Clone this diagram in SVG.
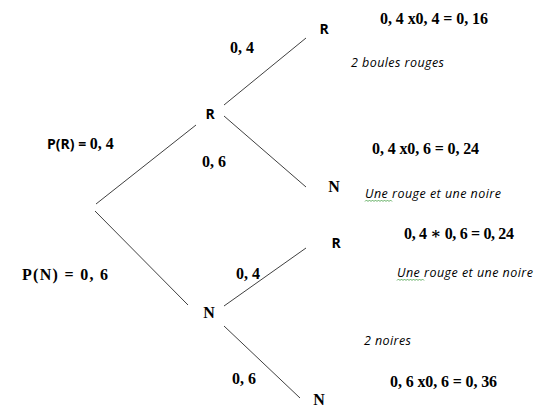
<svg xmlns="http://www.w3.org/2000/svg" width="552" height="407" viewBox="0 0 552 407">
<style>
.e{stroke:#404040;stroke-width:1;fill:none}
.s{font-family:"Open Sans","Liberation Sans",sans-serif;font-weight:bold;font-size:14px;fill:#000}
.m{font-family:"Liberation Serif","DejaVu Serif",serif;font-weight:bold;font-size:16px;fill:#000}
.i{font-family:"Open Sans","Liberation Sans",sans-serif;font-style:italic;font-size:12.5px;fill:#000}
.w{stroke:#3c9b3c;stroke-width:0.8;fill:none}
</style>
<rect width="552" height="407" fill="#fff"/>
<g id="connectors">
<line class="e" x1="96" y1="204" x2="196" y2="125"/>
<line class="e" x1="95" y1="211" x2="188" y2="305"/>
<line class="e" x1="224" y1="105" x2="306" y2="38"/>
<line class="e" x1="224" y1="116" x2="306" y2="187"/>
<line class="e" x1="224" y1="306" x2="306" y2="248"/>
<line class="e" x1="224" y1="326" x2="300" y2="398"/>
</g>
<g id="node-R"><text class="s" x="210" y="119" text-anchor="middle">R</text></g>
<g id="node-N"><text class="m" x="209" y="318" text-anchor="middle">N</text></g>
<g id="node-RR"><text class="s" x="324" y="34" text-anchor="middle">R</text></g>
<g id="node-RN"><text class="m" x="334" y="192" text-anchor="middle">N</text></g>
<g id="node-NR"><text class="s" x="336" y="248" text-anchor="middle">R</text></g>
<g id="node-NN"><text class="m" x="319" y="405" text-anchor="middle" font-size="15">N</text></g>
<g id="labels">
<text x="47" y="149"><tspan class="s">P(R) = </tspan><tspan class="m">0, 4</tspan></text>
<text class="m" x="22" y="280" font-size="17.5" textLength="86" lengthAdjust="spacing">P(N) = 0, 6</text>
<text class="m" x="230" y="53">0, 4</text>
<text class="m" x="202" y="167">0, 6</text>
<text class="m" x="236" y="279">0, 4</text>
<text class="m" x="232" y="384">0, 6</text>
<text class="m" x="380" y="24" textLength="108" lengthAdjust="spacing">0, 4 x0, 4 = 0, 16</text>
<text class="i" x="351" y="67" textLength="93" lengthAdjust="spacing">2 boules rouges</text>
<text class="m" x="372" y="154" textLength="107" lengthAdjust="spacing">0, 4 x0, 6 = 0, 24</text>
<text class="i" x="365" y="198" textLength="136" lengthAdjust="spacing">Une rouge et une noire</text>
<path class="w" d="M365 201.5 l1.5 -1.5 l1.5 1.5 l1.5 -1.5 l1.5 1.5 l1.5 -1.5 l1.5 1.5 l1.5 -1.5 l1.5 1.5 l1.5 -1.5 l1.5 1.5 l1.5 -1.5 l1.5 1.5 l1.5 -1.5 l1.5 1.5 l1.5 -1.5 l1.5 1.5 l1.5 -1.5 l1.5 1.5"/>
<text class="m" x="404" y="239" textLength="110" lengthAdjust="spacing">0, 4 ∗ 0, 6 = 0, 24</text>
<text class="i" x="397" y="277" textLength="136" lengthAdjust="spacing">Une rouge et une noire</text>
<path class="w" d="M397 280.5 l1.5 -1.5 l1.5 1.5 l1.5 -1.5 l1.5 1.5 l1.5 -1.5 l1.5 1.5 l1.5 -1.5 l1.5 1.5 l1.5 -1.5 l1.5 1.5 l1.5 -1.5 l1.5 1.5 l1.5 -1.5 l1.5 1.5 l1.5 -1.5 l1.5 1.5 l1.5 -1.5 l1.5 1.5"/>
<text class="i" x="364" y="345" textLength="47" lengthAdjust="spacing">2 noires</text>
<text class="m" x="390" y="387" textLength="107" lengthAdjust="spacing">0, 6 x0, 6 = 0, 36</text>
</g>
</svg>
